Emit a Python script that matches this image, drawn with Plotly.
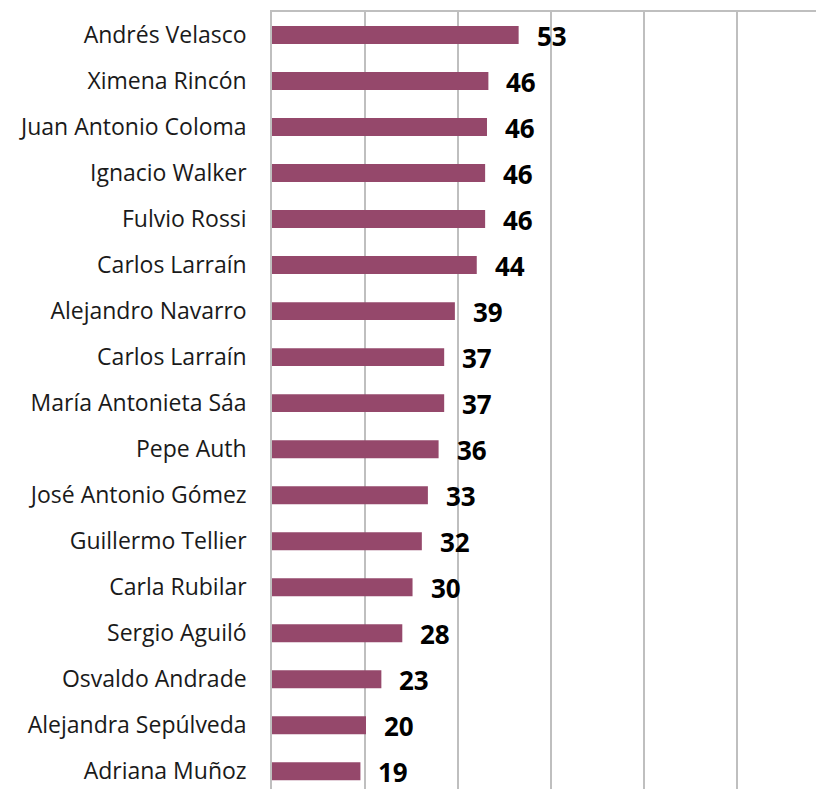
import plotly.graph_objects as go

names = [
    "Andrés Velasco", "Ximena Rincón", "Juan Antonio Coloma", "Ignacio Walker",
    "Fulvio Rossi", "Carlos Larraín", "Alejandro Navarro", "Carlos Larraín",
    "María Antonieta Sáa", "Pepe Auth", "José Antonio Gómez", "Guillermo Tellier",
    "Carla Rubilar", "Sergio Aguiló", "Osvaldo Andrade", "Alejandra Sepúlveda",
    "Adriana Muñoz",
]
values = [53, 46, 46, 46, 46, 44, 39, 37, 37, 36, 33, 32, 30, 28, 23, 20, 19]
# bar lengths (labels are rounded)
lengths = [53, 46.5, 46.2, 45.8, 45.8, 44, 39.3, 37, 37, 35.8, 33.5, 32.2, 30.2, 28, 23.5, 20.2, 19]
rows = list(range(len(names)))

bar_color = "#95486B"
grid_color = "#BFBFBF"

fig = go.Figure()
fig.add_trace(go.Bar(
    x=lengths,
    y=rows,
    orientation="h",
    marker=dict(color=bar_color, line=dict(width=0)),
    width=0.39,
    hoverinfo="skip",
))

for r, v, l in zip(rows, values, lengths):
    fig.add_annotation(
        x=l, y=r, text="<b>%d</b>" % v, showarrow=False,
        xanchor="left", xshift=16, yshift=-1,
        font=dict(family="Open Sans", size=26, color="black"),
    )

fig.update_layout(
    width=816, height=789,
    margin=dict(l=272, r=0, t=12, b=0),
    plot_bgcolor="white", paper_bgcolor="white",
    showlegend=False,
    font=dict(family="Open Sans", size=23, color="#1a1a1a"),
)
fig.update_xaxes(
    range=[0, 116.9], dtick=20, side="top",
    showgrid=True, gridcolor=grid_color, gridwidth=1.5,
    showline=True, linecolor=grid_color, linewidth=1.5,
    showticklabels=False, zeroline=False, automargin=False,
)
fig.update_yaxes(
    tickmode="array", tickvals=rows, ticktext=names,
    range=[16.385, -0.5],
    showline=True, linecolor=grid_color, linewidth=1.5,
    showgrid=False, zeroline=False, ticklabelstandoff=19, automargin=False,
)

# drop the page's default body margin so the figure sits at the window's corner
fig.write_html("out.html", config={"displayModeBar": False},
               post_script="document.body.style.margin='0';")
